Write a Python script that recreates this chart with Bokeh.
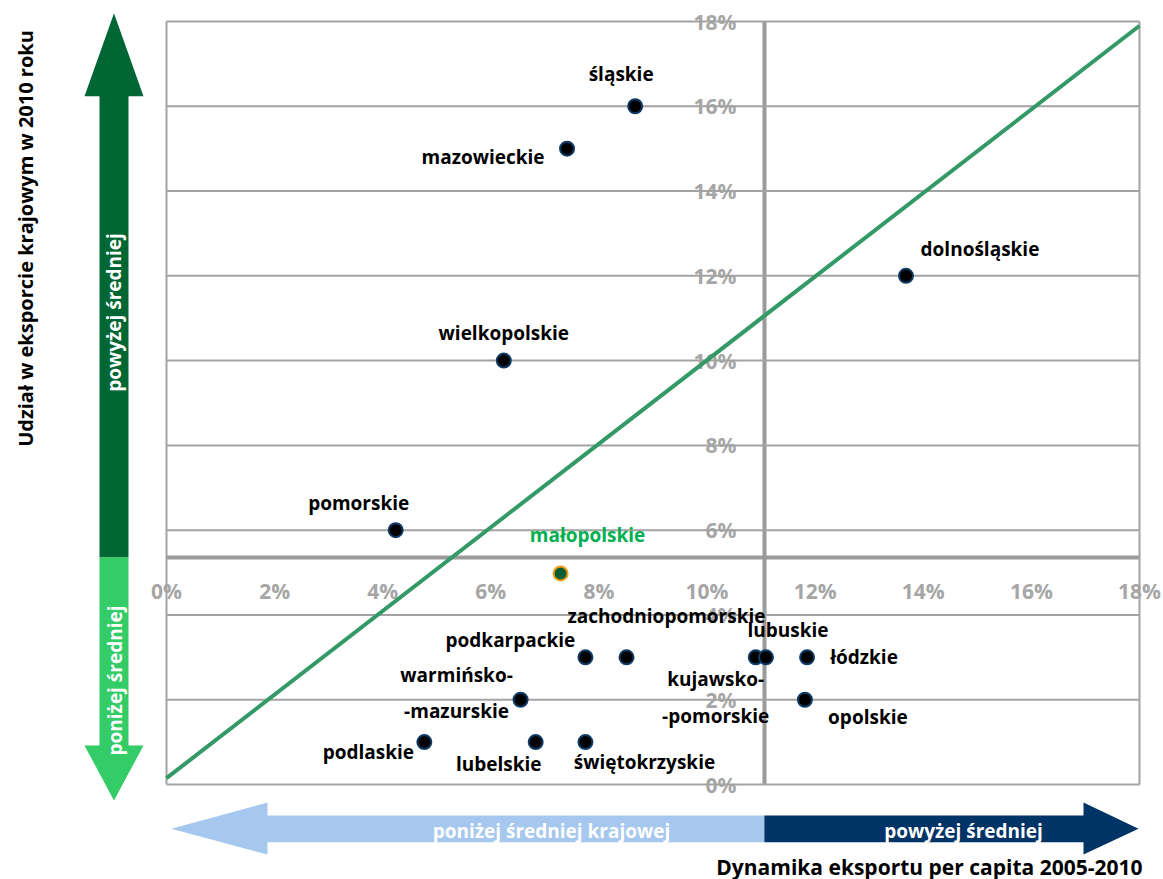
import math
from bokeh.plotting import figure
from bokeh.models import Range1d, LinearAxis, FixedTicker, PrintfTickFormatter, ColumnDataSource, Grid
from bokeh.core.properties import value
from bokeh.embed import file_html
from bokeh.resources import INLINE

# ---------------- data ----------------
REGIONS = ["śląskie", "mazowieckie", "dolnośląskie", "wielkopolskie", "pomorskie",
           "małopolskie", "podkarpackie", "zachodniopomorskie", "kujawsko-pomorskie",
           "lubuskie", "łódzkie", "opolskie", "warmińsko-mazurskie", "podlaskie",
           "lubelskie", "świętokrzyskie"]
LABELS = ["śląskie", "mazowieckie", "dolnośląskie", "wielkopolskie", "pomorskie",
          "małopolskie", "podkarpackie", "zachodniopomorskie", "kujawsko-\n-pomorskie",
          "lubuskie", "łódzkie", "opolskie", "warmińsko-\n-mazurskie", "podlaskie",
          "lubelskie", "świętokrzyskie"]
# export dynamics per capita 2005-2010 (%)
DYNAMICS = [8.67, 7.41, 13.68, 6.24, 4.24, 7.29, 7.75, 8.51, 10.90, 11.09, 11.85, 11.81,
            6.55, 4.77, 6.83, 7.75]
# share in national export 2010 (%)
SHARE = [16.0, 15.0, 12.0, 10.0, 6.0, 4.98, 3.0, 3.0, 3.0, 3.0, 3.0, 2.0, 2.0, 1.0, 1.0, 1.0]
AVG_X = 11.06   # average dynamics
AVG_Y = 5.355   # average share
TREND_X = [0.0, 18.0]
TREND_Y = [0.15, 17.9]
X_TICKS = [0, 2, 4, 6, 8, 10, 12, 14, 16, 18]
Y_TICKS = [0, 2, 4, 6, 8, 10, 12, 14, 16, 18]

# ---------------- layout / style ----------------
W, H = 1163, 879
FX0, FX1 = 166, 1139     # pixel columns of x=0 and x=18
FY0, FY1 = 784, 21       # pixel rows of y=0 and y=18
SX = 18.0 / (FX1 - FX0)
SY = 18.0 / (FY0 - FY1)

def dx(px):
    return (px - FX0) * SX

def dy(py):
    return (FY0 - py) * SY

# label offsets (screen px) relative to each point
OFFSETS = {
    "śląskie": (-14, -32), "mazowieckie": (-84, 8), "dolnośląskie": (74, -27),
    "wielkopolskie": (0, -28), "pomorskie": (-37, -27), "małopolskie": (27, -38),
    "podkarpackie": (-75, -17), "zachodniopomorskie": (40, -41),
    "kujawsko-pomorskie": (-40, 40), "lubuskie": (22, -27), "łódzkie": (57, 0),
    "opolskie": (63, 17), "warmińsko-mazurskie": (-64, -7), "podlaskie": (-56, 10),
    "lubelskie": (-37, 22), "świętokrzyskie": (59, 20),
}
HIGHLIGHT = "małopolskie"

FONT = value("Open Sans")
GRID_COL = "#a3a3a3"
TICK_COL = "#a6a6a6"

p = figure(width=W, height=H, output_backend="svg", toolbar_location=None,
           x_range=Range1d(-FX0 * SX, 18 + (W - FX1) * SX),
           y_range=Range1d(-(H - FY0) * SY, 18 + FY1 * SY),
           x_axis_location=None, y_axis_location=None, min_border=0)
p.outline_line_color = None
p.background_fill_color = "white"
p.border_fill_color = "white"
p.center = [r for r in p.center if not isinstance(r, Grid)]

# grid lines and frame borders
p.segment(x0=[0] * len(Y_TICKS), x1=[18] * len(Y_TICKS), y0=Y_TICKS, y1=Y_TICKS,
          line_color=GRID_COL, line_width=2)
p.segment(x0=[X_TICKS[0], X_TICKS[-1]], x1=[X_TICKS[0], X_TICKS[-1]],
          y0=[Y_TICKS[0]] * 2, y1=[Y_TICKS[-1]] * 2, line_color=GRID_COL, line_width=2)

# cross axes at the averages
xax = LinearAxis(fixed_location=AVG_Y, bounds=(0, 18), ticker=FixedTicker(ticks=X_TICKS),
                 formatter=PrintfTickFormatter(format="%d%%"))
yax = LinearAxis(fixed_location=AVG_X, bounds=(0, 18), ticker=FixedTicker(ticks=Y_TICKS),
                 formatter=PrintfTickFormatter(format="%d%%"))
for ax in (xax, yax):
    ax.axis_line_color = "#9a9a9a"
    ax.axis_line_width = 4
    ax.major_tick_line_color = None
    ax.minor_tick_line_color = None
    ax.major_label_text_color = TICK_COL
    ax.major_label_text_font = "Open Sans"
    ax.major_label_text_font_style = "bold"
    ax.major_label_text_font_size = "21px"
    ax.level = "underlay"
xax.major_label_standoff = 13
yax.major_label_standoff = 22
p.add_layout(xax, "below")
p.add_layout(yax, "left")

# diagonal
p.line(TREND_X, TREND_Y, line_color="#339966", line_width=4)

# points
src = ColumnDataSource(dict(
    x=DYNAMICS, y=SHARE, name=REGIONS, label=LABELS,
    fill=["#0b5e33" if r == HIGHLIGHT else "black" for r in REGIONS],
    line=["#f39c12" if r == HIGHLIGHT else "#0e3a66" for r in REGIONS],
    tcol=["#00b050" if r == HIGHLIGHT else "black" for r in REGIONS],
    ox=[OFFSETS[r][0] for r in REGIONS],
    oy=[OFFSETS[r][1] for r in REGIONS],
))
p.scatter("x", "y", source=src, size=14, fill_color="fill", line_color="line", line_width=2)
p.text("x", "y", text="label", source=src, x_offset="ox", y_offset="oy",
       text_align="center", text_baseline="middle", text_color="tcol",
       text_font=FONT, text_font_style="bold", text_font_size="19px", text_line_height=1.4)

# vertical arrow (share)
vx_c, vx_s0, vx_s1, vx_h0, vx_h1 = 113.5, 99, 128, 84, 143
p.patch([dx(v) for v in [vx_s0, vx_s0, vx_h0, vx_c, vx_h1, vx_s1, vx_s1]],
        [AVG_Y, dy(95.7), dy(95.7), dy(12.7), dy(95.7), dy(95.7), AVG_Y],
        fill_color="#006633", line_color=None)
p.patch([dx(v) for v in [vx_s0, vx_s0, vx_h0, vx_c, vx_h1, vx_s1, vx_s1]],
        [AVG_Y, dy(745), dy(745), dy(800), dy(745), dy(745), AVG_Y],
        fill_color="#33cc66", line_color=None)
p.text([dx(vx_c)], [dy(312)], text=["powyżej średniej"], angle=math.pi / 2,
       text_align="center", text_baseline="middle", text_color="white",
       text_font=FONT, text_font_style="bold", text_font_size="19px")
p.text([dx(vx_c + 1)], [dy(680)], text=["poniżej średniej"], angle=math.pi / 2,
       text_align="center", text_baseline="middle", text_color="white",
       text_font=FONT, text_font_style="bold", text_font_size="19px")

# horizontal arrow (dynamics)
hy_c, hy_s0, hy_s1, hy_h0, hy_h1 = 828.3, 815, 841.7, 802, 854
p.patch([AVG_X, dx(267), dx(267), dx(170.7), dx(267), dx(267), AVG_X],
        [dy(v) for v in [hy_s0, hy_s0, hy_h0, hy_c, hy_h1, hy_s1, hy_s1]],
        fill_color="#a6c8ee", line_color=None)
p.patch([AVG_X, dx(1083), dx(1083), dx(1138), dx(1083), dx(1083), AVG_X],
        [dy(v) for v in [hy_s0, hy_s0, hy_h0, hy_c, hy_h1, hy_s1, hy_s1]],
        fill_color="#003366", line_color=None)
p.text([dx(551)], [dy(830)], text=["poniżej średniej krajowej"],
       text_align="center", text_baseline="middle", text_color="white",
       text_font=FONT, text_font_style="bold", text_font_size="19px")
p.text([dx(963)], [dy(830)], text=["powyżej średniej"],
       text_align="center", text_baseline="middle", text_color="white",
       text_font=FONT, text_font_style="bold", text_font_size="19px")

# axis titles
p.text([dx(1142)], [dy(866)], text=["Dynamika eksportu per capita 2005-2010"],
       text_align="right", text_baseline="middle", text_color="black",
       text_font=FONT, text_font_style="bold", text_font_size="21px")
p.text([dx(25)], [dy(238)], text=["Udział w eksporcie krajowym w 2010 roku"], angle=math.pi / 2,
       text_align="center", text_baseline="middle", text_color="black",
       text_font=FONT, text_font_style="bold", text_font_size="20px")

open("out.html", "w").write(file_html(p, INLINE))
